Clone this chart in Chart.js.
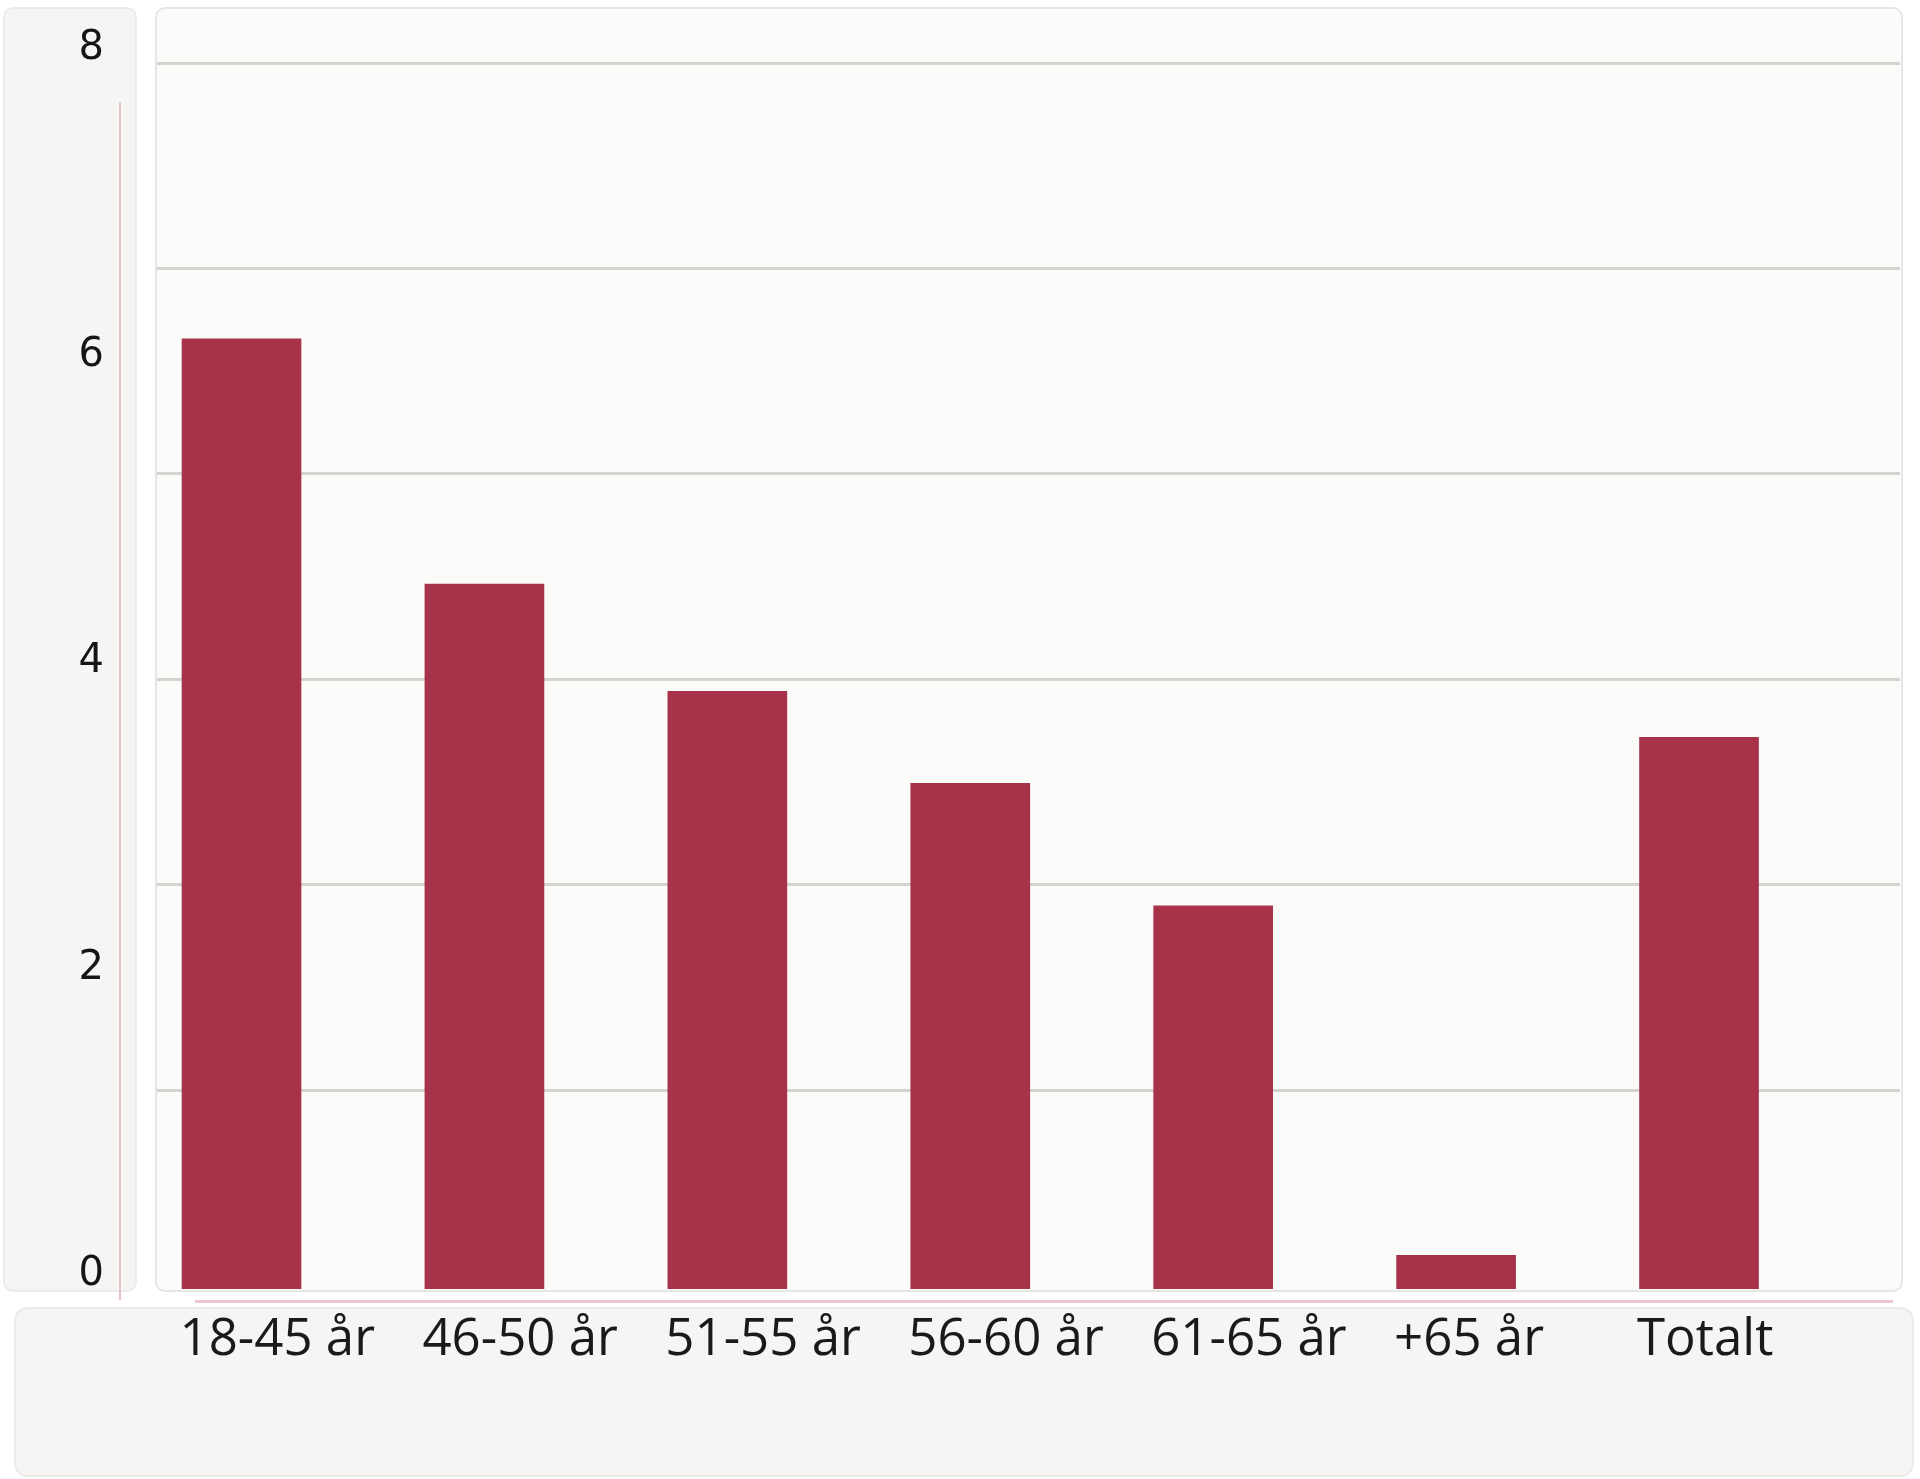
<!DOCTYPE html>
<html>
<head>
<meta charset="utf-8">
<script src="https://cdn.jsdelivr.net/npm/chart.js@4/dist/chart.umd.min.js"></script>
<style>
  html, body { margin: 0; padding: 0; background: #ffffff; }
  #wrap { position: relative; width: 1920px; height: 1479px; overflow: hidden; }
  .panel { position: absolute; box-sizing: border-box; }
  #leftPanel { left: 3px; top: 7px; width: 134px; height: 1285px; background: #f5f5f3; border: 2px solid #ebebe9; border-radius: 10px; }
  #plotPanel { left: 155px; top: 7px; width: 1748px; height: 1285px; background: #fbfbf9; border: 2px solid #e6e6e4; border-radius: 10px; }
  #bottomPanel { left: 14px; top: 1307px; width: 1900px; height: 170px; background: #f5f5f3; border: 2px solid #ebebe9; border-radius: 14px; }
  #vline { position: absolute; left: 119px; top: 102px; width: 2px; height: 1198px; background: #e8c3ca; }
  #hline { position: absolute; left: 195px; top: 1300px; width: 1698px; height: 3px; background: #ebc8cf; }
  canvas { position: absolute; left: 0; top: 0; }
</style>
</head>
<body>
<div id="wrap">
  <div class="panel" id="leftPanel"></div>
  <div class="panel" id="plotPanel"></div>
  <div class="panel" id="bottomPanel"></div>
  <div id="vline"></div>
  <div id="hline"></div>
  <canvas id="c" width="1920" height="1479"></canvas>
</div>
<script>
// ---- data ----
const categories = ["18-45 år", "46-50 år", "51-55 år", "56-60 år", "61-65 år", "+65 år", "Totalt"];
const values = [6.2, 4.6, 3.9, 3.3, 2.5, 0.22, 3.6];
const yTickValues = [0, 2, 4, 6, 8];
const gridLineSteps = [1, 2, 3, 4, 5, 6];

const barColor = "#a8324a";

const points = values.map((v, i) => ({ x: i, y: v }));

function noPad(scale) {
  scale.paddingTop = 0; scale.paddingBottom = 0;
  scale.paddingLeft = 0; scale.paddingRight = 0;
}

new Chart(document.getElementById("c"), {
  type: "bar",
  data: {
    datasets: [{
      data: points,
      backgroundColor: barColor,
      borderWidth: 0,
      barThickness: 119
    }]
  },
  options: {
    responsive: false,
    animation: false,
    layout: { padding: { left: 0, right: 20, top: 63, bottom: 110 } },
    plugins: { legend: { display: false }, tooltip: { enabled: false } },
    scales: {
      x: {
        type: "linear",
        bounds: "data",
        offset: false,
        min: -0.3479,
        max: 6.8274,
        afterBuildTicks: (scale) => { scale.ticks = categories.map((_, i) => ({ value: i })); },
        afterFit: (scale) => { scale.height = 80; noPad(scale); },
        grid: { display: false, drawTicks: false },
        border: { display: false },
        ticks: {
          autoSkip: false,
          maxRotation: 0,
          align: "start",
          labelOffset: -62,
          padding: 21,
          color: "#1a1a1a",
          font: { family: "'Open Sans'", size: 51 },
          callback: (v) => (categories[Math.round(v)] !== undefined) ? categories[Math.round(v)] : ""
        }
      },
      y: {
        position: "left",
        min: 0,
        max: 8,
        afterBuildTicks: (scale) => { scale.ticks = yTickValues.map(v => ({ value: v })); },
        afterFit: (scale) => { scale.width = 157; noPad(scale); },
        grid: { display: false, drawTicks: false },
        border: { display: false },
        ticks: {
          padding: 53,
          labelOffset: -14,
          color: "#151515",
          font: { family: "'DejaVu Sans'", size: 40 }
        }
      },
      yg: {
        position: "left",
        bounds: "data",
        min: 0.034,
        max: 6,
        afterBuildTicks: (scale) => { scale.ticks = gridLineSteps.map(v => ({ value: v })); },
        afterFit: (scale) => { scale.width = 0; noPad(scale); },
        grid: { display: true, drawTicks: false, color: "#d3d3cf", lineWidth: 3 },
        border: { display: false },
        ticks: { display: false }
      }
    }
  }
});
</script>
</body>
</html>
